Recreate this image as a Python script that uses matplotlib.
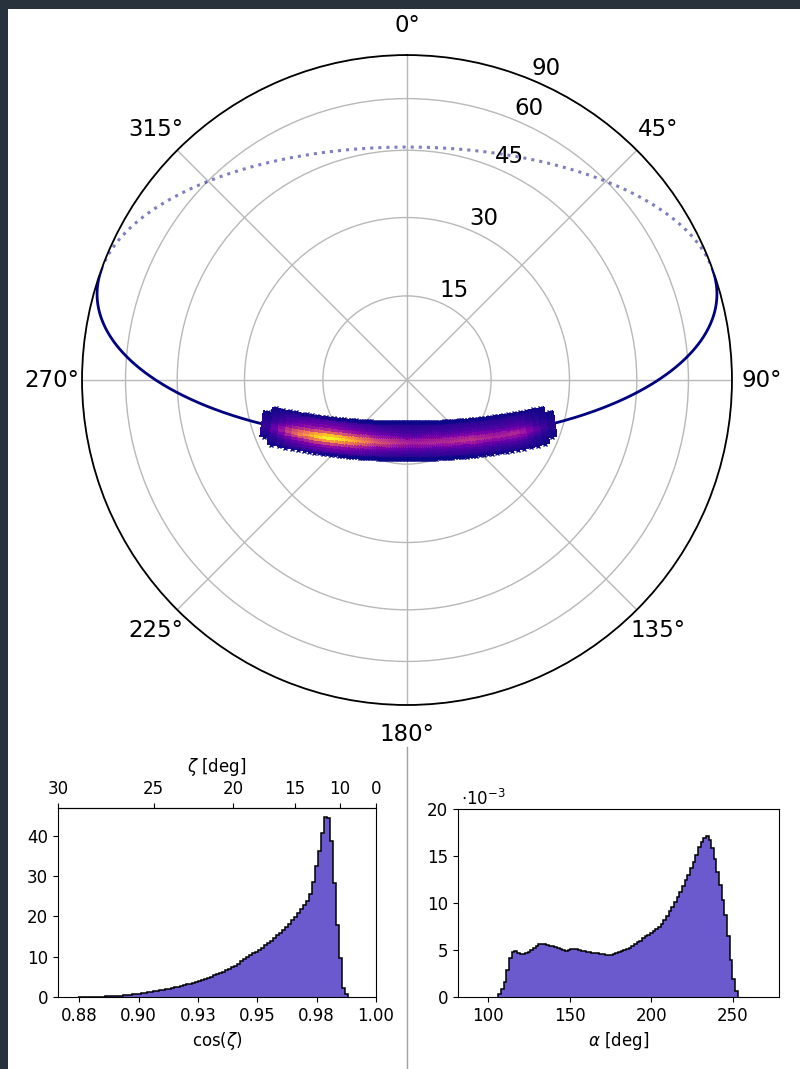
import numpy as np
import matplotlib
matplotlib.use("Agg")
import matplotlib.pyplot as plt
from matplotlib.patches import Rectangle
from matplotlib.lines import Line2D

# ---------------------------------------------------------------- data
# density of cos(zenith), 90 equal bins between these limits
cosz_lo, cosz_hi = 0.8746, 0.9880
cosz_density = [
    0.01, 0.01, 0.02, 0.02, 0.03, 0.04, 0.06, 0.08, 0.10, 0.12,
    0.15, 0.19, 0.23, 0.28, 0.34, 0.40, 0.47, 0.55, 0.63, 0.71,
    0.80, 0.91, 1.02, 1.13, 1.25, 1.37, 1.50, 1.62, 1.75, 1.90,
    2.05, 2.20, 2.35, 2.53, 2.72, 2.90, 3.10, 3.32, 3.55, 3.78,
    4.00, 4.26, 4.52, 4.78, 5.05, 5.36, 5.67, 5.98, 6.30, 6.68,
    7.05, 7.42, 7.80, 8.30, 8.85, 9.40, 9.90, 10.35, 10.80, 11.25,
    11.70, 12.25, 12.80, 13.35, 13.90, 14.55, 15.25, 15.90, 16.60, 17.40,
    18.20, 19.00, 19.90, 20.80, 21.80, 22.80, 23.80, 25.50, 28.50, 32.50,
    36.30, 40.80, 44.60, 44.40, 38.60, 28.20, 17.90, 9.60, 2.20, 0.80,
]

# density of azimuth alpha (units of 1e-3 per degree), 90 equal bins
alpha_lo, alpha_hi = 106.3, 253.2
alpha_density_e3 = [
    0.30, 0.80, 1.60, 2.90, 4.10, 4.80, 4.90, 4.70, 4.55, 4.60,
    4.70, 4.80, 5.00, 5.20, 5.45, 5.60, 5.65, 5.60, 5.50, 5.45,
    5.40, 5.35, 5.25, 5.15, 5.00, 4.90, 4.95, 5.05, 5.10, 5.05,
    4.95, 4.90, 4.85, 4.80, 4.75, 4.70, 4.70, 4.65, 4.60, 4.55,
    4.50, 4.45, 4.50, 4.60, 4.70, 4.80, 4.90, 5.00, 5.10, 5.20,
    5.40, 5.60, 5.85, 6.00, 6.25, 6.45, 6.60, 6.80, 7.00, 7.20,
    7.45, 7.80, 8.20, 8.60, 9.10, 9.60, 10.10, 10.60, 11.20, 11.80,
    12.40, 13.00, 13.70, 14.40, 15.10, 15.90, 16.50, 16.95, 17.15, 16.70,
    15.80, 14.70, 13.30, 11.90, 10.30, 8.70, 6.50, 3.90, 1.90, 0.60,
]

# relative weight across the track (from inner to outer edge of the cloud)
across_weight = [0.04, 0.07, 0.11, 0.17, 0.28, 0.50, 0.85, 1.00, 0.70, 0.38, 0.20, 0.11, 0.06]
across_halfwidth_deg = 3.3

# small circle on the sky followed by the track
track_center_zenith = 61.7   # deg, centre lies towards azimuth 0
track_radius = 72.5          # deg

zenith_ticks = [15, 30, 45, 60, 90]
cosz_ticks = [0.875, 0.900, 0.925, 0.950, 0.975, 1.000]
cosz_ticklabels = ["0.88", "0.90", "0.93", "0.95", "0.98", "1.00"]
zeta_top_ticks = [30, 25, 20, 15, 10, 0]
alpha_ticks = [100, 150, 200, 250]
alpha_yticks = [0, 5, 10, 15, 20]

# ---------------------------------------------------------------- geometry
zc = np.radians(track_center_zenith)


def circle_point(t, R):
    """North/East/Up components of a point on a small circle of radius R."""
    n = np.sin(zc) * np.cos(R) - np.cos(zc) * np.sin(R) * np.sin(t)
    e = np.sin(R) * np.cos(t)
    z = np.cos(zc) * np.cos(R) + np.sin(zc) * np.sin(R) * np.sin(t)
    return n, e, z


def to_polar(n, e):
    theta = np.mod(np.arctan2(e, n), 2 * np.pi)
    return theta, np.hypot(n, e)


rho = np.radians(track_radius)

# ---------------------------------------------------------------- figure
fig = plt.figure(figsize=(8.0, 10.69), dpi=100)
plt.rcParams["font.family"] = ["DejaVu Sans"]

ax = fig.add_axes([0.1025, 0.3405, 0.8125, 0.608], projection="polar")
ax.set_theta_zero_location("N")
ax.set_theta_direction(-1)
ax.set_ylim(0, 1)
ax.set_yticks(np.sin(np.radians(zenith_ticks)))
ax.set_yticklabels([str(z) for z in zenith_ticks], fontsize=16.5)
ax.set_rlabel_position(22.5)
ax.set_xticks(np.radians(np.arange(0, 360, 45)))
ax.set_xticklabels([f"{a}°" for a in range(0, 360, 45)], fontsize=16.5)
ax.tick_params(axis="x", pad=11)
ax.grid(True, color="#b8b8b8", linewidth=1.0)
ax.spines["polar"].set_linewidth(1.3)
ax.spines["polar"].set_color("black")

# upper (visible) half of the track: solid
t_up = np.linspace(-np.pi / 2, 3 * np.pi / 2, 1500)
n, e, z = circle_point(t_up, rho)
th, rr = to_polar(n, e)
rr_vis = np.where(z >= 0, rr, np.nan)
ax.plot(th, rr_vis, color="navy", linewidth=2.0, zorder=3)

# part below the horizon: dotted
t_dn = np.linspace(-3 * np.pi / 2, np.pi / 2, 1500)
n, e, z = circle_point(t_dn, rho)
th, rr = to_polar(n, e)
rr_hid = np.where(z < 0, rr, np.nan)
ax.plot(th, rr_hid, color="navy", alpha=0.5, linewidth=2.2, linestyle=":", zorder=3)

# point cloud along the track, coloured by density
alpha_edges = np.linspace(alpha_lo, alpha_hi, len(alpha_density_e3) + 1)
t_dense = np.linspace(np.radians(-9.0), np.radians(189.0), 4000)
n, e, _ = circle_point(t_dense, rho)
az_dense = np.degrees(np.mod(np.arctan2(e, n), 2 * np.pi))
t_edges = np.interp(alpha_edges, az_dense, t_dense)
d_edges = np.radians(np.linspace(-across_halfwidth_deg, across_halfwidth_deg,
                                 len(across_weight) + 1))
T, D = np.meshgrid(t_edges, d_edges, indexing="ij")
n, e, _ = circle_point(T, rho + D)
TH, RR = to_polar(n, e)
along = np.asarray(alpha_density_e3) / max(alpha_density_e3)
C = (along[:, None] * np.asarray(across_weight)[None, :]) ** 0.75

# round off the two ends of the cloud
hw = np.radians(across_halfwidth_deg)
t_mid = 0.5 * (t_edges[1:] + t_edges[:-1])
d_mid = 0.5 * (d_edges[1:] + d_edges[:-1])
s_end = np.sin(rho) * np.minimum(t_mid - t_edges[0], t_edges[-1] - t_mid)
reach = np.sqrt(np.clip(hw ** 2 - np.clip(hw - s_end, 0, None) ** 2, 0, None))
limit = reach + 0.08 * hw
C = np.ma.masked_where(np.abs(d_mid)[None, :] > limit[:, None], C)

ax.pcolormesh(TH, RR, C, cmap="plasma", vmin=0, vmax=1, shading="flat",
              edgecolors="face", linewidth=0.3, zorder=4)

# ragged rim of the cloud: markers on the outer grid nodes of every column
rim_t, rim_d = [], []
for j in range(len(t_mid)):
    inside = np.where(np.abs(d_mid) <= limit[j])[0]
    if inside.size == 0:
        continue
    rim_t += [t_mid[j], t_mid[j]]
    rim_d += [d_edges[inside[0]], d_edges[inside[-1] + 1]]
rim_t, rim_d = np.array(rim_t), np.array(rim_d)
n, e, _ = circle_point(rim_t, rho + rim_d)
rth, rrr = to_polar(n, e)
ax.plot(rth, rrr, linestyle="none", marker="x", markersize=3.5,
        markeredgewidth=1.0, color="#0d0887", zorder=4)

# ---------------------------------------------------------------- cos(zenith) histogram
ax1 = fig.add_axes([0.0725, 0.0674, 0.3975, 0.1768])
cosz_edges = np.linspace(cosz_lo, cosz_hi, len(cosz_density) + 1)
ax1.stairs(cosz_density, cosz_edges, fill=True, facecolor="slateblue",
           edgecolor="black", linewidth=1.1)
ax1.set_xlim(np.cos(np.radians(30)), 1.0)
ax1.set_ylim(0, 46.9)
ax1.set_xticks(cosz_ticks)
ax1.set_xticklabels(cosz_ticklabels)
ax1.set_yticks([0, 10, 20, 30, 40])
ax1.tick_params(labelsize=12)
ax1.set_xlabel(r"cos($\zeta$)", fontsize=12)

sec = ax1.secondary_xaxis(
    "top",
    functions=(lambda c: np.degrees(np.arccos(np.clip(c, -1, 1))),
               lambda zz: np.cos(np.radians(zz))))
sec.set_xticks(zeta_top_ticks)
sec.set_xticklabels([str(v) for v in zeta_top_ticks])
sec.tick_params(labelsize=12)
sec.set_xlabel(r"$\zeta$ [deg]", fontsize=12, labelpad=6)

# ---------------------------------------------------------------- azimuth histogram
ax2 = fig.add_axes([0.5725, 0.0674, 0.40125, 0.1759])
ax2.stairs(alpha_density_e3, alpha_edges, fill=True, facecolor="slateblue",
           edgecolor="black", linewidth=1.1)
ax2.set_xlim(81.5, 278.5)
ax2.set_ylim(0, 20)
ax2.set_xticks(alpha_ticks)
ax2.set_yticks(alpha_yticks)
ax2.tick_params(labelsize=12)
ax2.set_xlabel(r"$\alpha$ [deg]", fontsize=12)
ax2.text(0.01, 1.0, r"$\cdot 10^{-3}$", transform=ax2.transAxes,
         ha="left", va="bottom", fontsize=12)

# ---------------------------------------------------------------- frame decorations
fig.patches.append(Rectangle((0, 0), 8 / 800, 1, transform=fig.transFigure,
                             facecolor="#28323c", edgecolor="none", zorder=-1))
fig.patches.append(Rectangle((0, 1 - 9 / 1069), 1, 9 / 1069, transform=fig.transFigure,
                             facecolor="#28323c", edgecolor="none", zorder=-1))
fig.lines.append(Line2D([407 / 800, 407 / 800], [0, 1 - 747 / 1069],
                        transform=fig.transFigure, color="#a0a0a0", linewidth=1.0))

fig.savefig("out.png", dpi=100)
